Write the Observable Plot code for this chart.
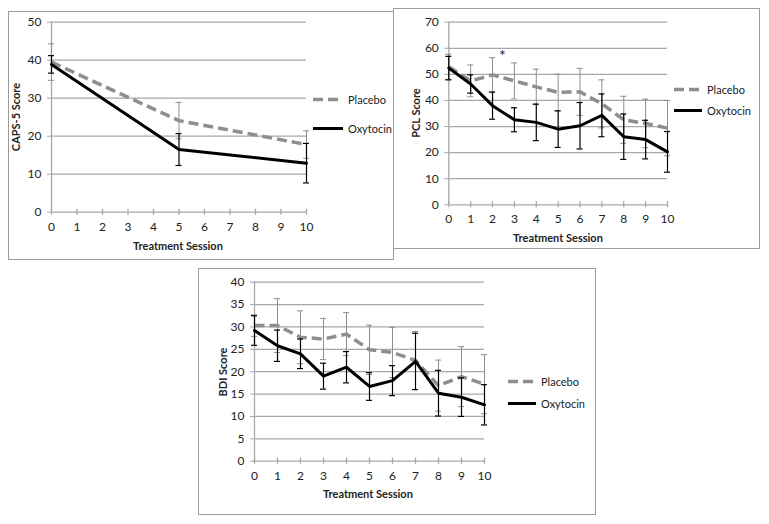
<!DOCTYPE html>
<html>
<head>
<meta charset="utf-8">
<script src="https://cdn.jsdelivr.net/npm/d3@7"></script>
<script src="https://cdn.jsdelivr.net/npm/@observablehq/plot@0.6"></script>
<style>
  html, body { margin: 0; padding: 0; background: #fff; }
  #root { position: relative; width: 769px; height: 524px; overflow: hidden; font-family: Lato, "Noto Sans", sans-serif; color: #222; }
  .box { position: absolute; border: 1.5px solid #9c9c9c; box-sizing: border-box; background: #fff; }
  .plot { position: absolute; }
  .ytitle { position: absolute; font-weight: bold; font-size: 11px; white-space: nowrap; transform: translate(-50%, -50%) rotate(-90deg); }
  .xtitle { position: absolute; font-weight: bold; font-size: 11px; white-space: nowrap; transform: translate(-50%, -50%); }
  .leg { position: absolute; font-size: 11px; white-space: nowrap; transform: translateY(-50%); display: flex; align-items: center; }
  .leg svg { margin-right: 5px; }
</style>
</head>
<body>
<div id="root"></div>
<script>
// ---------- data ----------
const seriesNames = ["Placebo", "Oxytocin"];
const xTickValues = [0, 1, 2, 3, 4, 5, 6, 7, 8, 9, 10];

// CAPS-5
const capsSessions = [0, 5, 10];
const capsPlacebo = [39.5, 24.1, 17.8];
const capsPlaceboErr = [4.8, 4.8, 3.6];
const capsOxytocin = [38.9, 16.5, 12.9];
const capsOxytocinErr = [2.3, 4.2, 5.2];
const capsYTicks = [0, 10, 20, 30, 40, 50];

// PCL
const pclSessions = [0, 1, 2, 3, 4, 5, 6, 7, 8, 9, 10];
const pclPlacebo = [52.9, 47.5, 49.8, 47.5, 45.2, 43.1, 43.3, 38.7, 32.6, 31.2, 29.4];
const pclPlaceboErr = [4.8, 6.1, 6.6, 6.9, 6.8, 7.0, 9.0, 9.2, 9.0, 9.3, 10.6];
const pclOxytocin = [52.4, 46.3, 38.0, 32.6, 31.6, 29.0, 30.3, 34.3, 26.1, 25.0, 20.3];
const pclOxytocinErr = [4.5, 3.5, 5.2, 4.6, 7.0, 7.0, 8.9, 8.2, 8.7, 7.4, 7.8];
const pclYTicks = [0, 10, 20, 30, 40, 50, 60, 70];
const pclNotes = [{session: 2.45, value: 57.0, label: "*"}];

// BDI
const bdiSessions = [0, 1, 2, 3, 4, 5, 6, 7, 8, 9, 10];
const bdiPlacebo = [30.3, 30.3, 27.7, 27.3, 28.4, 24.9, 24.3, 22.5, 16.9, 18.9, 17.2];
const bdiPlaceboErr = [2.4, 6.0, 5.9, 4.6, 4.8, 5.5, 5.6, 6.5, 5.7, 6.7, 6.6];
const bdiOxytocin = [29.2, 25.8, 24.0, 19.0, 21.0, 16.7, 18.0, 22.3, 15.2, 14.3, 12.6];
const bdiOxytocinErr = [3.3, 3.5, 3.3, 2.9, 3.5, 3.1, 3.35, 6.3, 5.1, 4.3, 4.5];
const bdiYTicks = [0, 5, 10, 15, 20, 25, 30, 35, 40];

// ---------- styles ----------
const GRID = "#a8a8a8";
const PLACEBO = "#8e8e8e";
const OXY = "#000000";
const DASH = "10,5";

const root = document.getElementById("root");

function rows(sessions, values, errs) {
  return sessions.map((s, i) => ({session: s, value: values[i], err: errs[i]}));
}

function errorMarks(data, color, width) {
  return [
    Plot.ruleX(data, {x: "session", y1: d => d.value - d.err, y2: d => d.value + d.err, stroke: color, strokeWidth: width}),
    Plot.ruleY(data, {x1: "session", x2: "session", y: d => d.value + d.err, insetLeft: -3, insetRight: -3, stroke: color, strokeWidth: width}),
    Plot.ruleY(data, {x1: "session", x2: "session", y: d => d.value - d.err, insetLeft: -3, insetRight: -3, stroke: color, strokeWidth: width})
  ];
}

function panel(cfg) {
  const box = document.createElement("div");
  box.className = "box";
  Object.assign(box.style, {left: cfg.box[0] + "px", top: cfg.box[1] + "px", width: cfg.box[2] + "px", height: cfg.box[3] + "px"});
  root.appendChild(box);

  const P = rows(cfg.sessions, cfg.placebo, cfg.placeboErr);
  const O = rows(cfg.sessions, cfg.oxy, cfg.oxyErr);
  const yMax = cfg.yTicks[cfg.yTicks.length - 1];

  const marks = [
    Plot.gridY(cfg.yTicks.filter(t => t > 0), {stroke: GRID, strokeOpacity: 1, strokeWidth: 1.3}),
    Plot.ruleY([0], {stroke: GRID, strokeWidth: 1.3}),
    Plot.ruleX([0], {stroke: GRID, strokeWidth: 1.3}),
    Plot.ruleX(xTickValues, {x: d => d, y1: 0, y2: 0, insetTop: -3, insetBottom: -3, stroke: GRID, strokeWidth: 1.3}),
    Plot.axisY({ticks: cfg.yTicks, tickSize: 4, tickPadding: 6, stroke: GRID, fill: "#222", label: null, tickFormat: d => String(d)}),
    Plot.axisX({ticks: xTickValues, tickSize: 0, tickPadding: 10, fill: "#222", label: null, tickFormat: d => String(d)}),
    ...errorMarks(P, PLACEBO, 1),
    Plot.line(P, {x: "session", y: "value", stroke: PLACEBO, strokeWidth: 3.5, strokeDasharray: DASH, strokeLinecap: "butt"}),
    ...errorMarks(O, OXY, 1.2),
    Plot.line(O, {x: "session", y: "value", stroke: OXY, strokeWidth: 3})
  ];
  if (cfg.notes) {
    marks.push(Plot.text(cfg.notes, {x: "session", y: "value", text: "label", fontSize: 16, fill: "#222"}));
  }

  const chart = Plot.plot({
    width: cfg.svg[2],
    height: cfg.svg[3],
    marginLeft: cfg.margin[0],
    marginRight: cfg.margin[1],
    marginTop: cfg.margin[2],
    marginBottom: cfg.margin[3],
    x: {domain: [0, 10], axis: null},
    y: {domain: [0, yMax], axis: null},
    style: {fontFamily: "Lato, 'Noto Sans', sans-serif", fontSize: "12px", background: "transparent", overflow: "visible", color: "#222"},
    marks
  });
  chart.classList.add("plot");
  chart.style.left = cfg.svg[0] + "px";
  chart.style.top = cfg.svg[1] + "px";
  root.appendChild(chart);

  const yt = document.createElement("div");
  yt.className = "ytitle";
  yt.textContent = cfg.yTitle;
  yt.style.left = cfg.yTitlePos[0] + "px";
  yt.style.top = cfg.yTitlePos[1] + "px";
  root.appendChild(yt);

  const xt = document.createElement("div");
  xt.className = "xtitle";
  xt.textContent = "Treatment Session";
  xt.style.left = cfg.xTitlePos[0] + "px";
  xt.style.top = cfg.xTitlePos[1] + "px";
  root.appendChild(xt);

  const legendStyles = [
    {color: PLACEBO, width: 3.5, dash: DASH},
    {color: OXY, width: 3, dash: null}
  ];
  seriesNames.forEach((name, i) => {
    const lg = document.createElement("div");
    lg.className = "leg";
    lg.style.left = cfg.legend[0] + "px";
    lg.style.top = cfg.legend[1 + i] + "px";
    const st = legendStyles[i];
    lg.innerHTML = `<svg width="${cfg.legendLen}" height="6"><line x1="0" x2="${cfg.legendLen}" y1="3" y2="3" stroke="${st.color}" stroke-width="${st.width}" ${st.dash ? `stroke-dasharray="${st.dash}"` : ""}/></svg><span>${name}</span>`;
    root.appendChild(lg);
  });
}

panel({
  box: [8, 11, 386, 249],
  svg: [8, 11, 320, 244],
  margin: [43, 22, 10.7, 43.3],
  sessions: capsSessions, placebo: capsPlacebo, placeboErr: capsPlaceboErr,
  oxy: capsOxytocin, oxyErr: capsOxytocinErr, yTicks: capsYTicks,
  yTitle: "CAPS-5 Score", yTitlePos: [15, 117], xTitlePos: [178, 245],
  legend: [313, 99, 128], legendLen: 30
});

panel({
  box: [393, 8, 367, 241],
  svg: [393, 8, 290, 235],
  margin: [55.3, 16, 13.7, 38.7],
  sessions: pclSessions, placebo: pclPlacebo, placeboErr: pclPlaceboErr,
  oxy: pclOxytocin, oxyErr: pclOxytocinErr, yTicks: pclYTicks, notes: pclNotes,
  yTitle: "PCL Score", yTitlePos: [415, 113], xTitlePos: [558, 237],
  legend: [674, 89, 110], legendLen: 28
});

panel({
  box: [198, 268, 398, 247],
  svg: [198, 268, 300, 240],
  margin: [56, 14, 13.7, 47.3],
  sessions: bdiSessions, placebo: bdiPlacebo, placeboErr: bdiPlaceboErr,
  oxy: bdiOxytocin, oxyErr: bdiOxytocinErr, yTicks: bdiYTicks,
  yTitle: "BDI Score", yTitlePos: [222, 372], xTitlePos: [368, 493],
  legend: [508, 381, 403], legendLen: 28
});
</script>
</body>
</html>
